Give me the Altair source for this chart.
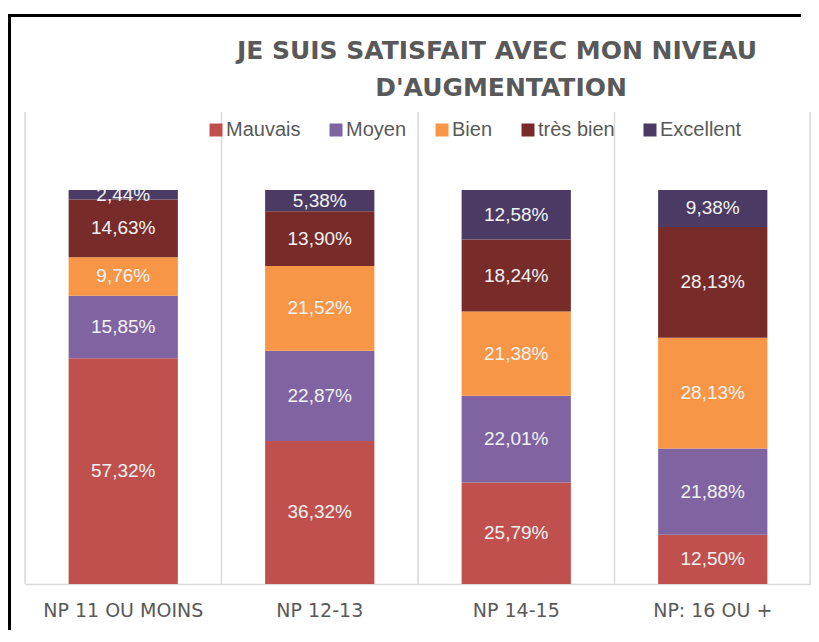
import altair as alt
import pandas as pd

categories = ["NP 11 OU MOINS", "NP 12-13", "NP 14-15", "NP: 16 OU +"]
series = ["Mauvais", "Moyen", "Bien", "très bien", "Excellent"]
colors = ["#C0504D", "#8064A2", "#F79646", "#772C2A", "#4B3A63"]
title_lines = ["JE SUIS SATISFAIT AVEC MON NIVEAU", "D'AUGMENTATION"]

mauvais = [57.32, 36.32, 25.79, 12.50]
moyen = [15.85, 22.87, 22.01, 21.88]
bien = [9.76, 21.52, 21.38, 28.13]
tres_bien = [14.63, 13.90, 18.24, 28.13]
excellent = [2.44, 5.38, 12.58, 9.38]

values = [mauvais, moyen, bien, tres_bien, excellent]
rows = []
for si, s in enumerate(series):
    for ci, c in enumerate(categories):
        v = values[si][ci]
        rows.append({"cat": c, "serie": s, "ord": si, "val": v,
                     "lab": f"{v:.2f}".replace(".", ",") + "%"})
df = pd.DataFrame(rows)

W, H = 786, 472
STEP = W / len(categories)
YMAX = 119.8

xscale = alt.Scale(domain=categories, paddingInner=0, paddingOuter=0)
xenc = alt.X("cat:N", sort=categories, title=None, scale=xscale,
             axis=alt.Axis(labelAngle=0, labelAlign="center", ticks=False,
                           grid=False, domain=True,
                           domainColor="#D9D9D9", domainWidth=1.5,
                           labelFont="DejaVu Sans", labelFontSize=19,
                           labelColor="#595959", labelPadding=26,
                           labelBaseline="middle", bandPosition=0.5))
yscale = alt.Scale(domain=[0, YMAX], nice=False)

base = alt.Chart(df)

grid = alt.Chart(pd.DataFrame({"cat": categories})).mark_rule(
    color="#D9D9D9", strokeWidth=1.5, xOffset=-STEP / 2
).encode(
    x=alt.X("cat:N", sort=categories, scale=xscale),
    y=alt.value(0), y2=alt.value(H)
)
right_edge = alt.Chart(pd.DataFrame({"cat": [categories[-1]]})).mark_rule(
    color="#D9D9D9", strokeWidth=1.5
).encode(x=alt.value(W - 1), y=alt.value(0), y2=alt.value(H))

bars = base.mark_bar(width={"band": 0.556}).encode(
    x=xenc,
    y=alt.Y("val:Q", stack="zero", scale=yscale, axis=None, title=None),
    color=alt.Color("serie:N", scale=alt.Scale(domain=series, range=colors),
                    legend=alt.Legend(orient="none", legendX=181, legendY=8,
                                      direction="horizontal", title=None,
                                      symbolType="square", symbolSize=169,
                                      symbolStrokeWidth=0, symbolOpacity=1,
                                      labelFont="Liberation Sans", labelFontSize=20,
                                      labelColor="#595959", columnPadding=25,
                                      labelOffset=0)),
    order=alt.Order("ord:Q", sort="ascending"),
)

labels = base.transform_window(
    cum="sum(val)", groupby=["cat"], sort=[alt.SortField("ord", order="ascending")]
).transform_calculate(
    mid="datum.cum - datum.val / 2"
).mark_text(font="Liberation Sans", fontSize=19, color="#F2F2F2",
            baseline="middle", align="center").encode(
    x=alt.X("cat:N", sort=categories, scale=xscale),
    y=alt.Y("mid:Q", scale=yscale),
    text="lab:N",
)

frame_left = alt.Chart(pd.DataFrame({"cat": [categories[0]]})).mark_rule(
    color="black", strokeWidth=3
).encode(x=alt.value(-15.5), y=alt.value(-98), y2=alt.value(H + 200))
frame_top = alt.Chart(pd.DataFrame({"cat": [categories[0]]})).mark_rule(
    color="black", strokeWidth=3
).encode(x=alt.value(-17), x2=alt.value(W - 10), y=alt.value(-96.5))

title1 = alt.Chart(pd.DataFrame({"t": [title_lines[0]]})).mark_text(
    font="DejaVu Sans", fontSize=25, fontWeight="bold", color="#595959",
    align="center", baseline="middle"
).encode(x=alt.value(472), y=alt.value(-61), text="t:N")
title2 = alt.Chart(pd.DataFrame({"t": [title_lines[1]]})).mark_text(
    font="DejaVu Sans", fontSize=25, fontWeight="bold", color="#595959",
    align="center", baseline="middle"
).encode(x=alt.value(476), y=alt.value(-24), text="t:N")

chart = alt.layer(frame_left, frame_top, grid, right_edge, bars, labels,
                  title1, title2).properties(
    width=W, height=H,
    autosize=alt.AutoSizeParams(type="none"),
    padding={"left": 17, "top": 104, "right": 0, "bottom": 46},
).configure_view(stroke=None)

chart.save("out.html", embed_options={"renderer": "svg", "actions": False})
